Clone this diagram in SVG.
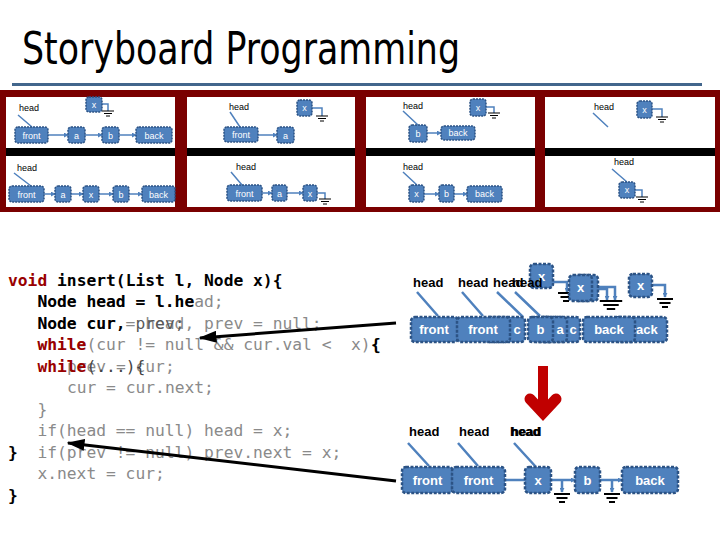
<svg xmlns="http://www.w3.org/2000/svg" width="720" height="540" viewBox="0 0 720 540">
<defs>
<style>
.title{font-family:"DejaVu Sans Condensed","DejaVu Sans","Liberation Sans",sans-serif;font-size:45px;fill:#000}
.code{font-family:"DejaVu Sans Mono","Liberation Mono",monospace;font-size:16.3px}
.g{fill:#8a8a8a}
.b{font-weight:bold;fill:#000}
.kw{font-weight:bold;fill:#990000}
.sn rect{fill:#4f81bd;stroke:#2c5385;stroke-width:1.5;stroke-dasharray:2 1}
.sn text{font-family:"Liberation Sans",sans-serif;font-size:9px;fill:#fff;text-anchor:middle}
.sh{font-family:"Liberation Sans",sans-serif;font-size:9px;fill:#000}
.sw{stroke:#4f81bd;stroke-width:1.5;fill:none}
.bn rect{fill:#4f81bd;stroke:#2c5385;stroke-width:2.5;stroke-dasharray:3 1.5}
.bn text{font-family:"Liberation Sans",sans-serif;font-size:13px;font-weight:bold;fill:#fff;text-anchor:middle}
.bh{font-family:"Liberation Sans",sans-serif;font-size:13px;font-weight:bold;fill:#000}
.bw{stroke:#4f81bd;stroke-width:2.5;fill:none}
.panel{fill:#fff}
.band{fill:#000}
</style>
<marker id="ah" viewBox="0 0 12 8" refX="11" refY="4" markerWidth="6" markerHeight="4" orient="auto" markerUnits="strokeWidth"><path d="M0,0 L12,4 L0,8 z" fill="#000"/></marker>
<marker id="sa" viewBox="0 0 6 6" refX="5" refY="3" markerWidth="5" markerHeight="5" markerUnits="userSpaceOnUse" orient="auto"><path d="M0,0 L6,3 L0,6 z" fill="#4f81bd"/></marker>
<g id="gs"><path d="M-6,0h12M-4,2.5h8M-2,5h4" stroke="#000" stroke-width="1.2" fill="none"/></g>
<g id="gl"><path d="M-8,0h16M-5.5,4h11M-3,8h6" stroke="#000" stroke-width="2" fill="none"/></g>
</defs>
<rect width="720" height="540" fill="#fff"/>

<!-- Title -->
<text class="title" x="22" y="64" textLength="438" lengthAdjust="spacingAndGlyphs">Storyboard Programming</text>
<line x1="12" y1="84.5" x2="702" y2="84.5" stroke="#42668c" stroke-width="3"/>

<!-- Storyboard frame -->
<g id="frame">
<rect x="0" y="90" width="720" height="122" fill="#7a0000"/>
<rect class="panel" x="6" y="97" width="169" height="110"/>
<rect class="panel" x="187" y="97" width="168" height="110"/>
<rect class="panel" x="366" y="97" width="169" height="110"/>
<rect class="panel" x="545" y="97" width="170" height="110"/>
<rect class="band" x="6" y="148" width="169" height="8"/>
<rect class="band" x="187" y="148" width="168" height="8"/>
<rect class="band" x="366" y="148" width="169" height="8"/>
<rect class="band" x="545" y="148" width="170" height="8"/>
</g>

<!-- Panel connectors -->
<g id="panel-connectors">
<path class="sw" d="M18,115L32,127M14,173L31,186M230,112L240,127M231,172L242,185M403,111L418,125M403,172L417,185M593,113L608,127M612,169L627,182"/>
<path class="sw" marker-end="url(#sa)" d="M48,135H68"/>
<path class="sw" marker-end="url(#sa)" d="M85,135H102"/>
<path class="sw" marker-end="url(#sa)" d="M119,135H136"/>
<path class="sw" d="M102,104H108V111"/>
<path class="sw" marker-end="url(#sa)" d="M44,194H55"/>
<path class="sw" marker-end="url(#sa)" d="M71,194H83"/>
<path class="sw" marker-end="url(#sa)" d="M99,194H113"/>
<path class="sw" marker-end="url(#sa)" d="M129,194H142"/>
<path class="sw" marker-end="url(#sa)" d="M258,135H277"/>
<path class="sw" d="M312,108H322V116"/>
<path class="sw" marker-end="url(#sa)" d="M262,193H272"/>
<path class="sw" marker-end="url(#sa)" d="M287,193H303"/>
<path class="sw" d="M317,193H325V199"/>
<path class="sw" marker-end="url(#sa)" d="M427,133H441"/>
<path class="sw" d="M486,107H494V113"/>
<path class="sw" marker-end="url(#sa)" d="M424,194H439"/>
<path class="sw" marker-end="url(#sa)" d="M454,194H467"/>
<path class="sw" d="M652,109H662V117"/>
<path class="sw" d="M635,190H642V197"/>
<use href="#gs" x="108" y="111"/>
<use href="#gs" x="322" y="116"/>
<use href="#gs" x="325" y="199"/>
<use href="#gs" x="494" y="113"/>
<use href="#gs" x="662" y="117"/>
<use href="#gs" x="642" y="197"/>
</g>

<!-- Panel 1 -->
<text class="sh" x="19" y="111">head</text>
<g id="p1a-front" class="sn"><rect x="15" y="127" width="33" height="16" rx="3"/><text x="31.5" y="138.5">front</text></g>
<g id="p1a-a" class="sn"><rect x="68" y="127" width="17" height="16" rx="3"/><text x="76.5" y="138.5">a</text></g>
<g id="p1a-b" class="sn"><rect x="102" y="127" width="17" height="16" rx="3"/><text x="110.5" y="138.5">b</text></g>
<g id="p1a-back" class="sn"><rect x="136" y="127" width="36" height="16" rx="3"/><text x="154" y="138.5">back</text></g>
<g id="p1a-x" class="sn"><rect x="86" y="97" width="16" height="15" rx="3"/><text x="94" y="108">x</text></g>
<text class="sh" x="17" y="171">head</text>
<g id="p1b-front" class="sn"><rect x="9" y="186" width="35" height="16" rx="3"/><text x="26.5" y="197.5">front</text></g>
<g id="p1b-a" class="sn"><rect x="55" y="186" width="16" height="16" rx="3"/><text x="63" y="197.5">a</text></g>
<g id="p1b-x" class="sn"><rect x="83" y="186" width="16" height="16" rx="3"/><text x="91" y="197.5">x</text></g>
<g id="p1b-b" class="sn"><rect x="113" y="186" width="16" height="16" rx="3"/><text x="121" y="197.5">b</text></g>
<g id="p1b-back" class="sn"><rect x="142" y="186" width="33" height="16" rx="3"/><text x="158.5" y="197.5">back</text></g>

<!-- Panel 2 -->
<text class="sh" x="229" y="110">head</text>
<g id="p2a-front" class="sn"><rect x="224" y="127" width="34" height="15" rx="3"/><text x="241" y="138">front</text></g>
<g id="p2a-a" class="sn"><rect x="277" y="127" width="17" height="16" rx="3"/><text x="285.5" y="138.5">a</text></g>
<g id="p2a-x" class="sn"><rect x="297" y="100" width="15" height="16" rx="3"/><text x="304.5" y="111">x</text></g>
<text class="sh" x="236" y="170">head</text>
<g id="p2b-front" class="sn"><rect x="227" y="185" width="35" height="16" rx="3"/><text x="244.5" y="196.5">front</text></g>
<g id="p2b-a" class="sn"><rect x="272" y="185" width="15" height="16" rx="3"/><text x="279.5" y="196.5">a</text></g>
<g id="p2b-x" class="sn"><rect x="303" y="185" width="14" height="16" rx="3"/><text x="310" y="196.5">x</text></g>

<!-- Panel 3 -->
<text class="sh" x="403" y="109">head</text>
<g id="p3a-b" class="sn"><rect x="409" y="125" width="18" height="17" rx="3"/><text x="418" y="136.5">b</text></g>
<g id="p3a-back" class="sn"><rect x="441" y="126" width="34" height="14" rx="3"/><text x="458" y="136">back</text></g>
<g id="p3a-x" class="sn"><rect x="470" y="99" width="16" height="17" rx="3"/><text x="478" y="110.5">x</text></g>
<text class="sh" x="403" y="170">head</text>
<g id="p3b-x" class="sn"><rect x="409" y="185" width="15" height="17" rx="3"/><text x="416.5" y="196.5">x</text></g>
<g id="p3b-b" class="sn"><rect x="439" y="185" width="15" height="17" rx="3"/><text x="446.5" y="196.5">b</text></g>
<g id="p3b-back" class="sn"><rect x="467" y="186" width="35" height="16" rx="3"/><text x="484.5" y="197">back</text></g>

<!-- Panel 4 -->
<text class="sh" x="594" y="110">head</text>
<g id="p4a-x" class="sn"><rect x="637" y="101" width="15" height="17" rx="3"/><text x="644.5" y="112.5">x</text></g>
<text class="sh" x="614" y="165">head</text>
<g id="p4b-x" class="sn"><rect x="619" y="182" width="16" height="16" rx="3"/><text x="627" y="193">x</text></g>

<!-- Code -->
<g id="code" class="code">
<text class="g" x="37.4" y="307">Node head = l.head;</text>
<text class="g" x="37.4" y="329">Node cur = head, prev = null;</text>
<text class="g" x="37.4" y="350" xml:space="preserve">while(cur != null &amp;&amp; cur.val &lt;  x){</text>
<text class="g" x="66.9" y="372">prev = cur;</text>
<text class="g" x="66.9" y="393">cur = cur.next;</text>
<text class="g" x="37.4" y="415">}</text>
<text class="g" x="37.4" y="436">if(head == null) head = x;</text>
<text class="g" x="37.4" y="458">if(prev != null) prev.next = x;</text>
<text class="g" x="37.4" y="479">x.next = cur;</text>
<text class="b" x="8" y="286"><tspan class="kw">void</tspan> insert(List l, Node x){</text>
<text class="b" x="37.4" y="307">Node head = l.he</text>
<text class="b" x="37.4" y="329">Node cur,</text>
<text x="135.5" y="329" fill="#5a5a5a">prev;</text>
<text class="kw" x="37.4" y="350">while</text>
<text class="b" x="371" y="350">{</text>
<text x="86.5" y="372" fill="#444">(...){</text>
<text class="kw" x="37.4" y="372">while</text>
<text class="b" x="8" y="458">}</text>
<text class="b" x="8" y="501">}</text>
</g>

<!-- Right upper diagram connectors -->
<g id="upper-connectors">
<path class="bw" stroke-width="2" d="M417,292L438,316M462,292L483,316M497,292L523,317M515,292L540,316"/>
<path class="bw" stroke-width="2" marker-end="url(#sa)" d="M553,282H567V292"/>
<path class="bw" stroke-width="2" marker-end="url(#sa)" d="M592,289H607V300"/>
<path class="bw" stroke-width="2" marker-end="url(#sa)" d="M598,287H615V300"/>
<path class="bw" stroke-width="2" marker-end="url(#sa)" d="M652,285H665V297"/>
<use href="#gl" x="566" y="293"/>
<use href="#gl" x="611" y="301" transform="translate(611,301) scale(1.4,1) translate(-611,-301)"/>
<use href="#gl" x="665" y="299"/>
</g>
<g id="u-front1" class="bn"><rect x="411" y="317" width="47" height="25" rx="4"/><text x="434" y="334">front</text></g>
<g id="u-c1" class="bn"><rect x="485" y="317" width="40" height="25" rx="4"/><text x="517" y="334">c</text></g>
<g id="u-front2" class="bn"><rect x="457" y="317" width="53" height="25" rx="4"/><text x="483" y="334">front</text></g>
<g id="u-c2" class="bn"><rect x="540" y="317" width="40" height="25" rx="4"/><text x="573" y="334">c</text></g>
<g id="u-a" class="bn"><rect x="533" y="317" width="34" height="25" rx="4"/><text x="560" y="334">a</text></g>
<g id="u-b" class="bn"><rect x="528" y="317" width="25" height="25" rx="4"/><text x="540.5" y="334">b</text></g>
<g id="u-back2" class="bn"><rect x="615" y="317" width="52" height="25" rx="4"/><text x="643" y="334">back</text></g>
<g id="u-back1" class="bn"><rect x="583" y="317" width="52" height="25" rx="4"/><text x="609" y="334">back</text></g>
<g id="u-x1" class="bn"><rect x="530" y="264" width="23" height="24" rx="4"/><text x="541.5" y="281">x</text></g>
<g id="u-x2b" class="bn"><rect x="575" y="275" width="23" height="26" rx="4"/></g>
<g id="u-x2" class="bn"><rect x="569" y="275" width="23" height="26" rx="4"/><text x="580.5" y="292">x</text></g>
<g id="u-x3" class="bn"><rect x="629" y="274" width="23" height="23" rx="4"/><text x="640.5" y="290">x</text></g>
<text class="bh" x="413" y="287">head</text>
<text class="bh" x="458" y="287">head</text>
<text class="bh" x="493" y="287">head</text>
<text class="bh" x="512" y="287">head</text>

<!-- Red transition arrow -->
<g id="red-arrow" stroke="#c00000" fill="none">
<path d="M543,366V410" stroke-width="10"/>
<path d="M530,399L543,413L556,399" stroke-width="11" stroke-linecap="round" stroke-linejoin="miter"/>
</g>

<!-- Right lower diagram connectors -->
<g id="lower-connectors">
<path class="bw" stroke-width="2" d="M408,443L429,466M458,443L478,466M514,443L536,467"/>
<path class="bw" d="M505,480H525"/>
<path class="bw" marker-end="url(#sa)" d="M551,480H575"/>
<path class="bw" stroke-width="2" marker-end="url(#sa)" d="M562,480V492"/>
<path class="bw" marker-end="url(#sa)" d="M600,480H622"/>
<path class="bw" stroke-width="2" marker-end="url(#sa)" d="M612,480V492"/>
<use href="#gl" x="562" y="494"/>
<use href="#gl" x="612" y="494"/>
</g>
<g id="l-front1" class="bn"><rect x="402" y="467" width="51" height="26" rx="4"/><text x="427.5" y="485">front</text></g>
<g id="l-front2" class="bn"><rect x="452" y="467" width="53" height="26" rx="4"/><text x="478.5" y="485">front</text></g>
<g id="l-x" class="bn"><rect x="525" y="467" width="26" height="26" rx="4"/><text x="538" y="485">x</text></g>
<g id="l-b" class="bn"><rect x="575" y="467" width="25" height="26" rx="4"/><text x="587.5" y="485">b</text></g>
<g id="l-back" class="bn"><rect x="622" y="467" width="56" height="26" rx="4"/><text x="650" y="485">back</text></g>
<text class="bh" x="409" y="436">head</text>
<text class="bh" x="459" y="436">head</text>
<text class="bh" x="510" y="436">head</text>
<text class="bh" x="511" y="436">head</text>

<!-- Pointer arrows into code -->
<g id="code-arrows" stroke="#000" stroke-width="3" fill="none">
<path d="M396,323L200,338" marker-end="url(#ah)"/>
<path d="M396,481L68,443" marker-end="url(#ah)"/>
</g>
</svg>
